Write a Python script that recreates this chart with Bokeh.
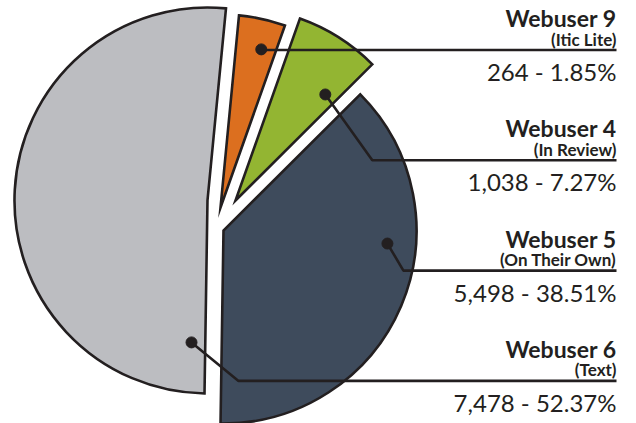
import numpy as np
from bokeh.plotting import figure
from bokeh.models import Range1d
from bokeh.embed import file_html
from bokeh.resources import INLINE
from bokeh.core.properties import value

# ---------------- data ----------------
names = ["Webuser 9", "Webuser 4", "Webuser 5", "Webuser 6"]
subtitles = ["(Itic Lite)", "(In Review)", "(On Their Own)", "(Text)"]
counts = [264, 1038, 5498, 7478]
percents = [1.85, 7.27, 38.51, 52.37]
colors = ["#DC6F1F", "#93B532", "#3E4B5C", "#BCBDC1"]

# ---------------- layout ----------------
W, H = 636, 423
PAGE_H = 423
CX, CY = 218, PAGE_H - 212
R = 193
START_DEG = 84.5
MIN_DEG = 14
# exploded-slice pull: distance and direction relative to the slice's mid-angle
pull_dist = [5.4, 20.8, 18.7, 16.3]
pull_rot = [-9.3, -22.5, -51.5, -44.3]
dot_angle_frac = [0.64, 0.81, 0.364, 0.030]
dot_r_frac = [0.846, 0.72, 0.852, 0.74]
elbow_dx = [0, 47, 16, 47]
LABEL_RIGHT = 616
LINE_Y0 = 49.5
LINE_STEP = 110.3
INK = "#231F20"
FONT = "Lato"

# slice angles (clockwise from the top), smallest slices get a minimum angle
raw = np.array(percents, dtype=float) / sum(percents) * 360.0
small = raw < MIN_DEG
spans = raw.copy()
spans[small] = MIN_DEG
rest = 360.0 - MIN_DEG * small.sum()
spans[~small] = raw[~small] / raw[~small].sum() * rest
his = START_DEG - np.concatenate([[0], np.cumsum(spans)[:-1]])
los = his - spans
mids = (his + los) / 2

pdir = np.radians(mids + np.array(pull_rot))
ax = CX + np.array(pull_dist) * np.cos(pdir)
ay = CY + np.array(pull_dist) * np.sin(pdir)

p = figure(width=W, height=H, output_backend="svg", toolbar_location=None,
           x_range=Range1d(0, W), y_range=Range1d(PAGE_H - H, PAGE_H),
           min_border=0, background_fill_color="white", border_fill_color="white")
p.axis.visible = False
p.grid.visible = False
p.outline_line_color = None

p.wedge(x=ax, y=ay, radius=R, start_angle=np.radians(los), end_angle=np.radians(his),
        direction="anticlock", fill_color=colors, line_color=INK, line_width=2.6,
        line_join="miter")

# leader lines and dots
dot_ang = his - np.array(dot_angle_frac) * spans
dx = ax + np.array(dot_r_frac) * R * np.cos(np.radians(dot_ang))
dy = ay + np.array(dot_r_frac) * R * np.sin(np.radians(dot_ang))
line_y = [PAGE_H - (LINE_Y0 + i * LINE_STEP) for i in range(len(names))]

xs, ys = [], []
for i in range(len(names)):
    ex = dx[i] + elbow_dx[i]
    xs.append([dx[i], ex, LABEL_RIGHT])
    ys.append([dy[i], line_y[i], line_y[i]])
p.multi_line(xs=xs, ys=ys, line_color=INK, line_width=2.6)
p.scatter(x=dx, y=dy, size=11, fill_color=INK, line_color=INK)

# labels
values_txt = [f"{c:,} - {v:.2f}%" for c, v in zip(counts, percents)]
ly = np.array(line_y)
p.text(x=[LABEL_RIGHT] * 4, y=ly + 32, text=names, text_align="right",
       text_baseline="alphabetic", text_font=value(FONT), text_font_style="bold",
       text_font_size="23px", text_color=INK)
p.text(x=[LABEL_RIGHT] * 4, y=ly + 11, text=subtitles, text_align="right",
       text_baseline="alphabetic", text_font=value(FONT), text_font_style="bold",
       text_font_size="17px", text_color=INK)
p.text(x=[LABEL_RIGHT] * 4, y=ly - 21.5, text=values_txt, text_align="right",
       text_baseline="alphabetic", text_font=value(FONT),
       text_font_size="24px", text_color=INK)

open("out.html", "w").write(file_html(p, INLINE))
